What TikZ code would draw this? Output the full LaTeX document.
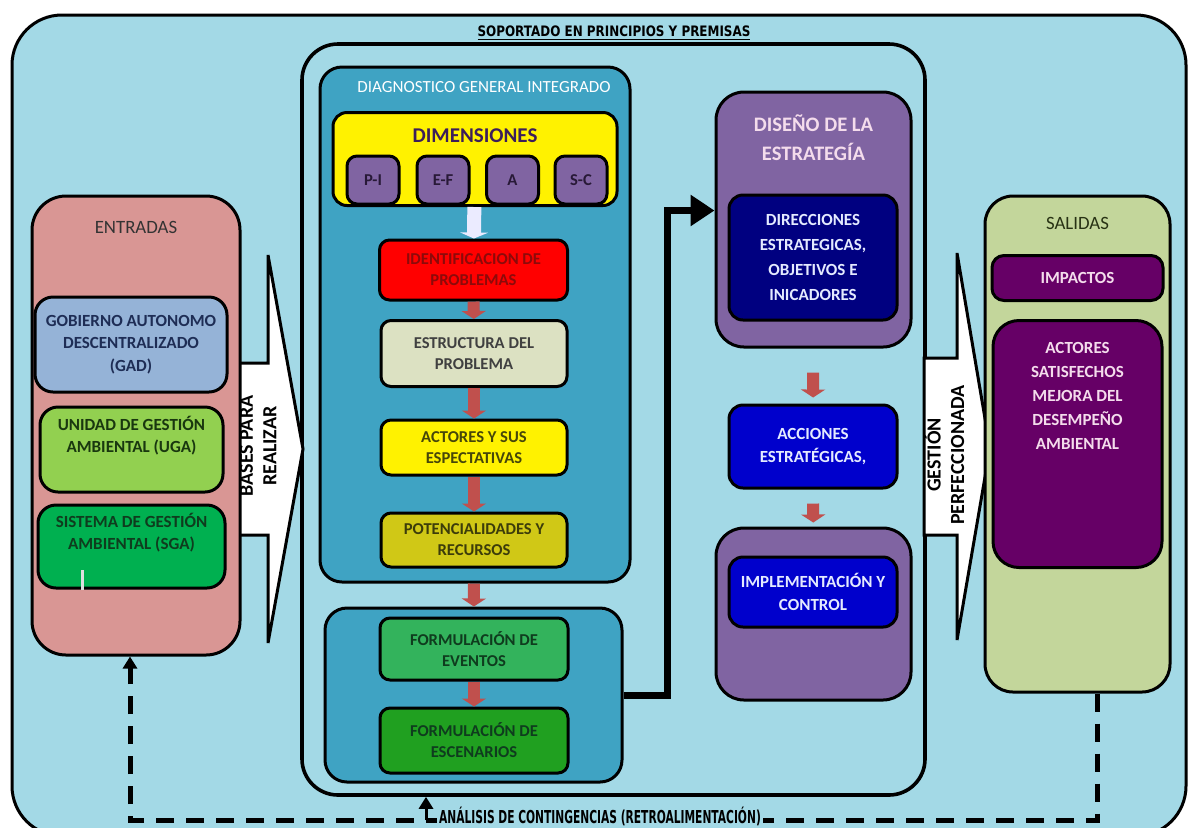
\documentclass[tikz,border=0pt]{standalone}
\usepackage{fontspec}
\setmainfont{Carlito}
\newfontfamily\rotulo{DejaVu Sans}[FakeStretch=0.83]
\newfontfamily\rotulob{DejaVu Sans}[FakeStretch=0.6]
\usetikzlibrary{arrows.meta,positioning}

\definecolor{agua}{HTML}{A3D9E6}
\definecolor{turquesa}{HTML}{3FA3C3}
\definecolor{rosa}{HTML}{D99694}
\definecolor{gadazul}{HTML}{95B3D7}
\definecolor{ugaverde}{HTML}{92D050}
\definecolor{sgaverde}{HTML}{00B050}
\definecolor{crema}{HTML}{DCE1C2}
\definecolor{oliva}{HTML}{D0C816}
\definecolor{eventoverde}{HTML}{33B35C}
\definecolor{escenverde}{HTML}{20A020}
\definecolor{morado}{HTML}{8064A2}
\definecolor{marino}{HTML}{000080}
\definecolor{azul}{HTML}{0000CC}
\definecolor{salidasoliva}{HTML}{C3D69B}
\definecolor{ciruela}{HTML}{660066}
\definecolor{flecharoja}{HTML}{C0504D}
\definecolor{rosado}{HTML}{F4DCEC}
\definecolor{celeste}{HTML}{E4EAFF}

\begin{document}
\begin{tikzpicture}[x=0.5pt,y=-0.5pt,
    every node/.style={font=\fontsize{8.3}{10.5}\selectfont\bfseries, align=center},
    caja/.style={draw, line width=1.5pt, rounded corners=5pt, inner sep=1pt},
    titulo/.style={font=\fontsize{9.4}{11}\selectfont},
    flechaR/.style={line width=6pt, draw=flecharoja, -{Triangle[length=4pt,width=12pt]}},
    girado/.style={rotate=90, font=\fontsize{10}{11.8}\selectfont\bfseries}]
    \useasboundingbox (0,0) rectangle (1194,827);
    % fondo
    \draw[line width=1.5pt, fill=agua, rounded corners=25pt] (12,15) rectangle (1186,836);

    \node[draw, line width=1.8pt, rounded corners=18pt, minimum width=311.5pt, minimum height=375.5pt] (mid) at (613.5,419.5) {};
    \node[font=\fontsize{7.2}{8}\rotulo\bfseries, inner sep=1pt] (soporte) at (614,33) {\underline{SOPORTADO EN PRINCIPIOS Y PREMISAS}};

    % diagnostico
    \node[caja, fill=turquesa, rounded corners=11pt, minimum width=155pt, minimum height=257.5pt] (teal1) at (475,324.5) {};
    \node[titulo, font=\fontsize{8.5}{10}\selectfont, text=white] (teal1T) at (484,87) {DIAGNOSTICO GENERAL INTEGRADO};
    \node[caja, fill=yellow, rounded corners=7pt, minimum width=142pt, minimum height=46.5pt] (dims) at (475,159) {};
    \node[font=\fontsize{10.5}{12}\selectfont\bfseries, text={rgb,255:red,60;green,30;blue,90}] (dimsT) at (475,136) {DIMENSIONES};
    \node[caja, fill=morado, minimum width=26pt, minimum height=24pt, text={rgb,255:red,40;green,25;blue,55}] (pi) at (373,180) {P-I};
    \node[caja, fill=morado, minimum width=26pt, minimum height=24pt, text={rgb,255:red,40;green,25;blue,55}] (ef) at (443,180) {E-F};
    \node[caja, fill=morado, minimum width=26pt, minimum height=24pt, text={rgb,255:red,40;green,25;blue,55}] (ad) at (512.5,180) {A};
    \node[caja, fill=morado, minimum width=26pt, minimum height=24pt, text={rgb,255:red,40;green,25;blue,55}] (sc) at (581,180) {S-C};
    \node[caja, fill=red, minimum width=94pt, minimum height=30pt, text={rgb,255:red,140;green,10;blue,10}] (ident) at (473.5,270) {IDENTIFICACION DE\\PROBLEMAS};
    \node[caja, fill=crema, minimum width=93pt, minimum height=33pt, text=black!75] (estr) at (474,353.5) {ESTRUCTURA DEL\\PROBLEMA};
    \node[caja, fill=yellow, minimum width=93pt, minimum height=27.5pt, text={rgb,255:red,70;green,70;blue,10}] (actor) at (474,447.5) {ACTORES Y SUS\\ESPECTATIVAS};
    \node[caja, fill=oliva, minimum width=93pt, minimum height=27pt, text={rgb,255:red,60;green,60;blue,10}] (poten) at (474,540) {POTENCIALIDADES Y\\RECURSOS};
    \node[caja, fill=turquesa, rounded corners=11pt, minimum width=148.5pt, minimum height=87pt] (teal2) at (473.5,695) {};
    \node[caja, fill=eventoverde, minimum width=94pt, minimum height=31pt, text={rgb,255:red,15;green,60;blue,30}] (event) at (474,649) {FORMULACIÓN DE\\EVENTOS};
    \node[caja, fill=escenverde, minimum width=94pt, minimum height=32.5pt, text={rgb,255:red,15;green,60;blue,30}] (escen) at (474,740.5) {FORMULACIÓN DE\\ESCENARIOS};
    \draw[line width=7pt, draw=white!92!blue, -{Triangle[length=3pt,width=14pt]}] (dims) -- (ident);
    \draw[flechaR] (ident) -- (estr);
    \draw[flechaR] (estr) -- (actor);
    \draw[flechaR] (actor) -- (poten);
    \draw[flechaR] (teal1) -- (teal2);
    \draw[flechaR] (event) -- (escen);

    % estrategia
    \node[caja, fill=morado, rounded corners=14pt, minimum width=97.5pt, minimum height=127.5pt] (diseno) at (813.5,219.5) {};
    \node[font=\fontsize{10.3}{14.5}\selectfont\bfseries, text=rosado] (disenoT) at (813.5,137.5) {DISEÑO DE LA\\ESTRATEGÍA};
    \node[caja, fill=marino, rounded corners=7pt, minimum width=84pt, minimum height=62.5pt, text=celeste, font=\fontsize{8.5}{12.5}\selectfont\bfseries] (direc) at (813,257.5) {DIRECCIONES\\ESTRATEGICAS,\\OBJETIVOS E\\INICADORES};
    \node[caja, fill=azul, rounded corners=7pt, minimum width=84pt, minimum height=41.5pt, text=celeste, font=\fontsize{8.5}{11.5}\selectfont\bfseries] (acc) at (813,446.5) {ACCIONES\\ESTRATÉGICAS,};
    \node[caja, fill=morado, rounded corners=14pt, minimum width=97.5pt, minimum height=86pt] (impl) at (813.5,614) {};
    \node[caja, fill=azul, rounded corners=7pt, minimum width=84pt, minimum height=35pt, text=celeste, font=\fontsize{8.5}{11.5}\selectfont\bfseries] (implB) at (813,592) {IMPLEMENTACIÓN Y\\CONTROL};
    \draw[flechaR, shorten <=12pt, shorten >=3pt] (diseno) -- (acc);
    \draw[flechaR, shorten <=7pt, shorten >=2pt] (acc) -- (impl);

    % flechas grandes
    \draw[line width=1.5pt, fill=white] (225,363) -- (268,363) -- (268,255) -- (303,449) -- (268,643) -- (268,535) -- (225,535) -- cycle;
    \node[girado] (bases) at (258,446) {BASES PARA\\REALIZAR};
    \draw[line width=1.5pt, fill=white] (924,358) -- (957,358) -- (957,253) -- (990,448) -- (957,640) -- (957,535) -- (924,535) -- cycle;
    \node[girado] (gestion) at (944,455) {GESTIÓN\\PERFECCIONADA};

    % entradas
    \node[caja, fill=rosa, rounded corners=17pt, minimum width=104pt, minimum height=229.5pt] (entradas) at (136,425.5) {};
    \node[titulo, text=black!80] (entradasT) at (136,227) {ENTRADAS};
    \node[caja, fill=gadazul, rounded corners=9pt, minimum width=96pt, minimum height=47.5pt, text={rgb,255:red,30;green,45;blue,85}, font=\fontsize{8.5}{11.3}\selectfont\bfseries] (gad) at (131,344.5) {GOBIERNO AUTONOMO\\DESCENTRALIZADO\\(GAD)};
    \node[caja, fill=ugaverde, rounded corners=9pt, minimum width=91.5pt, minimum height=42.5pt, text={rgb,255:red,25;green,55;blue,15}, font=\fontsize{8.5}{11.3}\selectfont\bfseries] (uga) at (131.5,449.5) {UNIDAD DE GESTIÓN\\AMBIENTAL (UGA)\\[4pt]};
    \node[caja, fill=sgaverde, rounded corners=9pt, minimum width=93.5pt, minimum height=41.5pt, text={rgb,255:red,15;green,60;blue,30}, font=\fontsize{8.5}{11.3}\selectfont\bfseries] (sga) at (131.5,546.5) {SISTEMA DE GESTIÓN\\AMBIENTAL (SGA)\\[4pt]};
    \draw[line width=1.5pt, white!75!gray] (82,570) -- (82,590);

    % salidas
    \node[caja, fill=salidasoliva, rounded corners=14pt, minimum width=92.5pt, minimum height=248pt] (salidas) at (1077.5,444) {};
    \node[titulo, text={rgb,255:red,40;green,50;blue,20}] (salidasT) at (1077.5,223) {SALIDAS};
    \node[caja, fill=ciruela, rounded corners=6pt, minimum width=85.5pt, minimum height=22.5pt, text=rosado, font=\fontsize{8.5}{11}\selectfont\bfseries] (impactos) at (1077.5,278) {IMPACTOS};
    \node[caja, fill=ciruela, rounded corners=13pt, minimum width=84.5pt, minimum height=123.5pt] (actores) at (1077.5,444) {};
    \node[text=rosado, font=\fontsize{8.5}{11.9}\selectfont\bfseries] (actoresT) at (1077.5,396) {ACTORES\\SATISFECHOS\\MEJORA DEL\\DESEMPEÑO\\AMBIENTAL};

    % conexiones
    \coordinate (giro) at (667,695);
    \draw[line width=3.5pt, -{Triangle[length=12pt,width=15pt]}] (teal2.east) -- (giro) |- ([yshift=4.5pt]diseno.west);
    \coordinate (retro) at (426,820);
    \draw[line width=2.5pt, dash pattern=on 9pt off 6pt, -{Triangle[length=6pt,width=7pt]}] ([xshift=10pt]salidas.south) |- (retro) -| ([xshift=-3pt]entradas.south);
    \node[font=\fontsize{8.9}{10}\rotulob\bfseries, fill=agua, inner sep=1pt] (analisis) at (600,816) {ANÁLISIS DE CONTINGENCIAS (RETROALIMENTACIÓN)};
    \draw[line width=1.5pt, -{Triangle[length=6pt,width=7pt]}] (retro) -- (retro |- mid.south);
\end{tikzpicture}
\end{document}
